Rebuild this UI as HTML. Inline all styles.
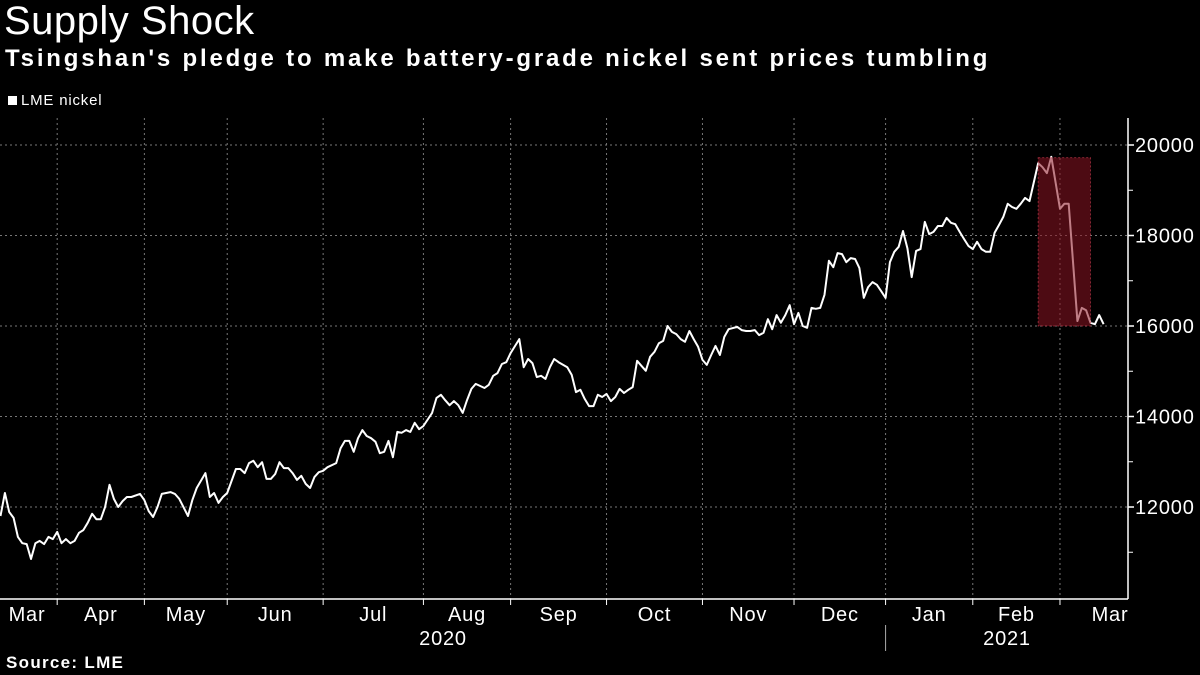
<!DOCTYPE html>
<html><head><meta charset="utf-8">
<style>
html,body{margin:0;padding:0;background:#000;}
body{width:1200px;height:675px;overflow:hidden;position:relative;font-family:"Liberation Sans",sans-serif;color:#fff;}
#title{position:absolute;left:4px;top:-1px;font-size:40px;letter-spacing:0.5px;}
#subtitle{position:absolute;left:5px;top:45px;font-size:24px;font-weight:bold;letter-spacing:2.8px;}
#legend{position:absolute;left:8px;top:92px;font-size:15px;letter-spacing:0.8px;}
#legend span.sw{display:inline-block;width:9px;height:9px;background:#fff;margin-right:4px;}
#source{position:absolute;left:6px;top:653px;font-size:17px;font-weight:bold;letter-spacing:1.3px;}
svg{position:absolute;left:0;top:0;}
svg text{letter-spacing:0.8px;}
</style></head><body>
<div id="title">Supply Shock</div>
<div id="subtitle">Tsingshan's pledge to make battery-grade nickel sent prices tumbling</div>
<div id="legend"><span class="sw"></span>LME nickel</div>
<div id="source">Source: LME</div>
<svg id="chart" width="1200" height="675"></svg>
<script>
const days=[0,1,2,3,4,5,6,7,8,9,10,11,12,13,14,15,16,17,18,19,20,21,22,23,24,25,26,27,28,29,30,32,33,34,35,36,37,39,40,41,43,44,45,47,48,49,50,51,52,54,55,56,57,58,59,60,61,62,63,64,65,66,67,68,69,70,71,72,73,74,75,77,78,79,80,81,82,83,84,85,86,87,88,89,90,91,92,93,94,95,96,97,99,100,101,102,103,104,105,106,107,108,109,111,112,113,114,115,116,117,119,120,121,122,123,124,125,126,127,128,130,131,132,133,134,135,136,137,138,139,140,141,142,143,144,145,146,147,148,149,150,151,152,153,154,155,156,157,158,159,160,161,162,163,164,165,166,167,169,170,171,172,173,174,175,176,177,178,179,180,181,182,183,184,185,186,187,188,189,190,191,192,193,194,195,196,197,198,199,200,201,202,203,204,205,206,207,208,209,210,211,212,213,214,215,216,217,218,219,220,221,222,223,224,225,226,227,228,229,230,231,232,233,234,235,236,238,239,240,241,243,244,245,247,248,249,250,251,252,253];
const prices=[11800,12310,11890,11760,11340,11200,11180,10850,11200,11250,11180,11340,11290,11450,11200,11290,11200,11250,11430,11490,11650,11850,11730,11730,12000,12490,12180,12000,12130,12220,12220,12290,12150,11910,11780,12000,12290,12330,12290,12180,11800,12150,12420,12750,12220,12310,12090,12220,12310,12840,12840,12750,12970,13020,12880,12990,12620,12620,12730,12990,12860,12860,12750,12600,12690,12510,12420,12660,12770,12800,12880,12970,13300,13460,13460,13220,13520,13700,13570,13520,13440,13190,13220,13460,13100,13660,13640,13700,13660,13860,13720,13790,14080,14410,14480,14360,14250,14340,14250,14080,14360,14610,14720,14630,14700,14900,14960,15160,15200,15400,15710,15090,15270,15180,14870,14900,14830,15090,15270,15200,15090,14920,14540,14590,14390,14230,14230,14480,14430,14500,14340,14430,14610,14520,14590,14650,15230,15120,15010,15320,15430,15620,15670,16000,15870,15820,15710,15650,15890,15710,15540,15250,15140,15360,15560,15360,15760,15930,15980,15910,15890,15890,15910,15800,15850,16150,15930,16240,16070,16240,16460,16040,16290,16000,15960,16400,16380,16400,16690,17440,17300,17610,17590,17410,17500,17480,17280,16620,16860,16970,16910,16770,16620,17410,17640,17750,18100,17720,17080,17660,17700,18300,18030,18080,18210,18210,18390,18280,18250,18080,17920,17770,17700,17860,17700,17640,17640,18060,18230,18410,18700,18630,18590,18700,18830,18760,19600,19510,19380,19740,18590,18700,18700,16110,16400,16350,16070,16040,16240,16040];
const monthLabels=["Mar","Apr","May","Jun","Jul","Aug","Sep","Oct","Nov","Dec","Jan","Feb","Mar"];
const monthStarts=[13,33,52,74,97,117,139,161,182,203,223,243];
const yTicks=[12000,14000,16000,18000,20000];
const yMinor=[11000,13000,15000,17000,19000];
const highlightDays=[238,250];
const highlightRange=[16000,19720];

const NS="http://www.w3.org/2000/svg";
const svg=document.getElementById('chart');
const X=d=>0.5+d*4.36;
const Y=v=>326-(v-16000)*0.04525;
const axisX=1128, plotTop=118, plotBottom=599;
function mk(tag,attrs,parent){const e=document.createElementNS(NS,tag);for(const k in attrs)e.setAttribute(k,attrs[k]);(parent||svg).appendChild(e);return e;}
yTicks.forEach(v=>{
  const g=mk('line',{x1:0,x2:axisX,y1:Y(v),y2:Y(v),stroke:'#777','stroke-width':1,'stroke-dasharray':'2,3'});
  
  
  const t=mk('line',{x1:axisX,x2:axisX+6,y1:Y(v),y2:Y(v),stroke:'#fff','stroke-width':1.5});
  
  
  const l=mk('text',{x:axisX+7,y:Y(v)+7,fill:'#fff','font-size':20,'font-family':'Liberation Sans, sans-serif'});
  l.textContent=v;
  
  
});
yMinor.forEach(v=>{
  const t=mk('line',{x1:axisX,x2:axisX+5,y1:Y(v),y2:Y(v),stroke:'#fff','stroke-width':1});
  
  
});
monthStarts.forEach(d=>{
  const g=mk('line',{x1:X(d),x2:X(d),y1:plotTop,y2:plotBottom,stroke:'#777','stroke-width':1,'stroke-dasharray':'2,3'});
  
  
  const t=mk('line',{x1:X(d),x2:X(d),y1:plotBottom,y2:plotBottom+6,stroke:'#fff','stroke-width':1});
  
  
});
const bounds=[-1].concat(monthStarts).concat([257]);
monthLabels.forEach((m,i)=>{
  let cx=(X(bounds[i])+X(bounds[i+1]))/2;
  if(i===0) cx=27;
  if(i===monthLabels.length-1) cx=1110;
  const l=mk('text',{x:cx,y:621,fill:'#fff','font-size':20,'text-anchor':'middle','font-family':'Liberation Sans, sans-serif'});
  l.textContent=m;
  
  
});
[["2020",443],["2021",1007]].forEach(([y,x])=>{
  const l=mk('text',{x:x,y:645,fill:'#fff','font-size':20,'text-anchor':'middle','font-family':'Liberation Sans, sans-serif'});
  l.textContent=y;
  
  
});
const sep=mk('line',{x1:X(203),x2:X(203),y1:625,y2:651,stroke:'#aaa','stroke-width':1});


const xa=mk('line',{x1:0,x2:axisX,y1:plotBottom,y2:plotBottom,stroke:'#fff','stroke-width':1.5});


const ya=mk('line',{x1:axisX,x2:axisX,y1:plotTop,y2:plotBottom,stroke:'#fff','stroke-width':1.5});


const pts=days.map((d,i)=>X(d).toFixed(1)+','+Y(prices[i]).toFixed(1)).join(' ');
const line=mk('polyline',{points:pts,fill:'none',stroke:'#fff','stroke-width':2,'stroke-linejoin':'round'});


const hx1=X(highlightDays[0]),hx2=X(highlightDays[1]);
const rect=mk('rect',{x:hx1,y:Y(highlightRange[1]),width:hx2-hx1,height:Y(highlightRange[0])-Y(highlightRange[1]),fill:'rgba(140,20,35,0.55)',stroke:'rgba(200,60,80,0.6)','stroke-width':1,'stroke-dasharray':'2,2'});


</script>
</body></html>
